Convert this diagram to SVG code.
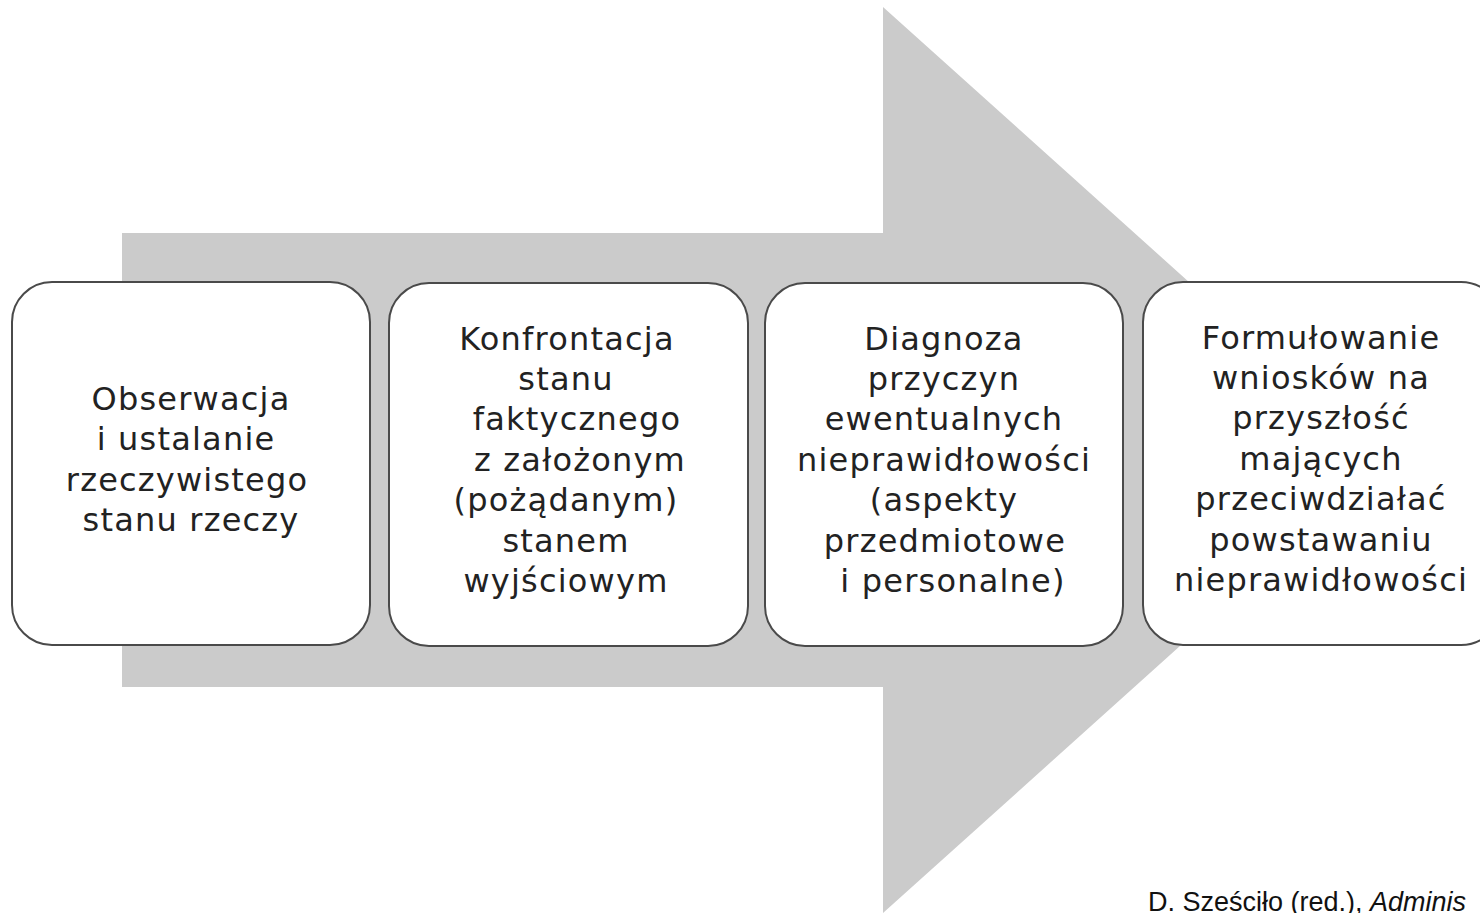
<svg xmlns="http://www.w3.org/2000/svg" width="1480" height="913" viewBox="0 0 1480 913">
<style>
.box{fill:#fff;stroke:#4a4a4a;stroke-width:2}
.t{font-family:"DejaVu Sans",sans-serif;font-size:32px;letter-spacing:1.2px;fill:#222;text-anchor:middle}
.src{font-family:"Liberation Sans",Arial,sans-serif;font-size:27px;fill:#111}
</style>
<rect width="1480" height="913" fill="#fff"/>
<g id="arrow">
<polygon points="122,233 883,233 883,7 1387,460 883,913 883,687 122,687" fill="#cbcbcb"/>
</g>
<g id="connectors"></g>
<g id="node1">
<rect class="box" x="12" y="282" width="358" height="363" rx="40"/>
<text class="t"><tspan x="191" y="410">Obserwacja</tspan><tspan x="186" y="450">i ustalanie</tspan><tspan x="187" y="491">rzeczywistego</tspan><tspan x="191" y="531">stanu rzeczy</tspan></text>
</g>
<g id="node2">
<rect class="box" x="389" y="283" width="359" height="363" rx="40"/>
<text class="t"><tspan x="567" y="350">Konfrontacja</tspan><tspan x="566" y="390">stanu</tspan><tspan x="577" y="430">faktycznego</tspan><tspan x="580" y="471">z założonym</tspan><tspan x="566" y="511">(pożądanym)</tspan><tspan x="566" y="552">stanem</tspan><tspan x="566" y="592">wyjściowym</tspan></text>
</g>
<g id="node3">
<rect class="box" x="765" y="283" width="358" height="363" rx="40"/>
<text class="t"><tspan x="944" y="350">Diagnoza</tspan><tspan x="944" y="390">przyczyn</tspan><tspan x="944" y="430">ewentualnych</tspan><tspan x="944" y="471">nieprawidłowości</tspan><tspan x="944" y="511">(aspekty</tspan><tspan x="945" y="552">przedmiotowe</tspan><tspan x="953" y="592">i personalne)</tspan></text>
</g>
<g id="node4">
<rect class="box" x="1143" y="282" width="358" height="363" rx="40"/>
<text class="t"><tspan x="1321" y="349">Formułowanie</tspan><tspan x="1321" y="389">wniosków na</tspan><tspan x="1321" y="429">przyszłość</tspan><tspan x="1321" y="470">mających</tspan><tspan x="1321" y="510">przeciwdziałać</tspan><tspan x="1321" y="551">powstawaniu</tspan><tspan x="1321" y="591">nieprawidłowości</tspan></text>
</g>
<text class="src" x="1148" y="911">D. Sześciło (red.), <tspan font-style="italic">Adminis</tspan></text>
</svg>
